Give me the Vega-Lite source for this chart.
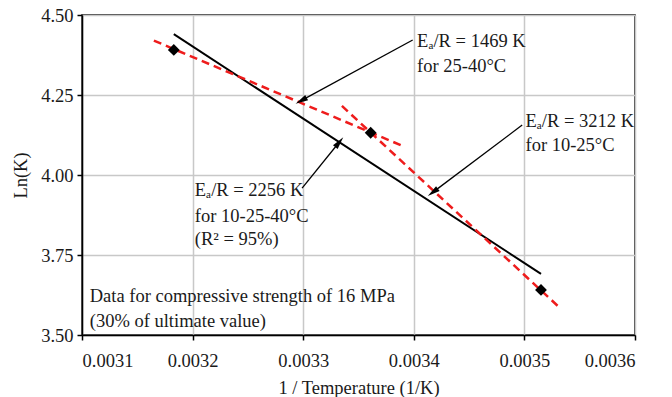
{
  "$schema": "https://vega.github.io/schema/vega-lite/v6.json",
  "width": 553,
  "height": 320,
  "autosize": "none",
  "padding": {"left": 82, "top": 15, "right": 37, "bottom": 62},
  "background": "white",
  "config": {
    "font": "Liberation Serif, Times New Roman, serif",
    "view": {"stroke": "black", "strokeWidth": 1.5},
    "axis": {
      "labelFont": "Liberation Serif, Times New Roman, serif",
      "titleFont": "Liberation Serif, Times New Roman, serif",
      "labelFontSize": 18.5,
      "titleFontSize": 18.5,
      "titleFontWeight": "normal",
      "labelColor": "#1a1a1a",
      "titleColor": "#1a1a1a",
      "domainColor": "black",
      "domainWidth": 1.5,
      "tickColor": "black",
      "tickWidth": 1.5,
      "tickSize": 5,
      "gridColor": "#c8c8c8",
      "gridWidth": 1.5
    }
  },
  "datasets": {
    "pts": [
      {"x": 0.003183, "y": 4.391},
      {"x": 0.003361, "y": 4.132},
      {"x": 0.003515, "y": 3.641}
    ],
    "fit": [
      {"x": 0.003183, "y": 4.44},
      {"x": 0.003515, "y": 3.691}
    ],
    "seg": [
      {"seg": "25-40", "x": 0.003165, "y": 4.42},
      {"seg": "25-40", "x": 0.003389, "y": 4.092},
      {"seg": "10-25", "x": 0.003335, "y": 4.216},
      {"seg": "10-25", "x": 0.003532, "y": 3.585}
    ],
    "arrows": [
      {"x1": 0.003399, "y1": 4.422, "x2": 0.003299, "y2": 4.234},
      {"x1": 0.003498, "y1": 4.156, "x2": 0.003418, "y2": 3.948},
      {"x1": 0.003299, "y1": 3.959, "x2": 0.003332, "y2": 4.1}
    ],
    "labels": [
      {"x": 0.003403, "y": 4.40, "text": "Eₐ/R = 1469 K"},
      {"x": 0.003403, "y": 4.322, "text": "for 25-40°C"},
      {"x": 0.003501, "y": 4.15, "text": "Eₐ/R = 3212 K"},
      {"x": 0.003501, "y": 4.075, "text": "for 10-25°C"},
      {"x": 0.003202, "y": 3.934, "text": "Eₐ/R = 2256 K"},
      {"x": 0.003202, "y": 3.853, "text": "for 10-25-40°C"},
      {"x": 0.003202, "y": 3.781, "text": "(R² = 95%)"},
      {"x": 0.003107, "y": 3.603, "text": "Data for compressive strength of 16 MPa"},
      {"x": 0.003107, "y": 3.525, "text": "(30% of ultimate value)"}
    ]
  },
  "encoding": {
    "x": {
      "field": "x", "type": "quantitative",
      "scale": {"domain": [0.0031, 0.0036], "nice": false, "zero": false},
      "axis": {"title": "1 / Temperature (1/K)", "values": [0.0031, 0.0032, 0.0033, 0.0034, 0.0035, 0.0036], "format": ".4f", "labelPadding": 11, "titlePadding": 9}
    },
    "y": {
      "field": "y", "type": "quantitative",
      "scale": {"domain": [3.5, 4.5], "nice": false, "zero": false},
      "axis": {"title": "Ln(K)", "values": [3.5, 3.75, 4.0, 4.25, 4.5], "format": ".2f", "labelPadding": 4, "titlePadding": 10}
    }
  },
  "layer": [
    {
      "data": {"name": "fit"},
      "mark": {"type": "line", "color": "black", "strokeWidth": 2}
    },
    {
      "data": {"name": "seg"},
      "mark": {"type": "line", "color": "#ee1c1c", "strokeWidth": 2.5, "strokeDash": [8, 5]},
      "encoding": {"detail": {"field": "seg"}}
    },
    {
      "data": {"name": "pts"},
      "mark": {"type": "point", "shape": "diamond", "filled": true, "color": "black", "size": 140, "opacity": 1}
    },
    {
      "data": {"name": "arrows"},
      "mark": {"type": "rule", "color": "black", "strokeWidth": 1.3},
      "encoding": {
        "x": {"field": "x1", "type": "quantitative"},
        "y": {"field": "y1", "type": "quantitative"},
        "x2": {"field": "x2"},
        "y2": {"field": "y2"}
      }
    },
    {
      "data": {"name": "arrows"},
      "transform": [
        {"calculate": "atan2((datum.x2 - datum.x1) * 1106000, (datum.y2 - datum.y1) * 320) * 180 / PI", "as": "ang"}
      ],
      "mark": {"type": "point", "shape": "M0,-1L0.4,0.7L-0.4,0.7Z", "filled": true, "color": "black", "size": 220, "opacity": 1},
      "encoding": {
        "x": {"field": "x2", "type": "quantitative"},
        "y": {"field": "y2", "type": "quantitative"},
        "angle": {"field": "ang", "type": "quantitative", "scale": null}
      }
    },
    {
      "data": {"name": "labels"},
      "mark": {"type": "text", "align": "left", "baseline": "alphabetic", "fontSize": 18.5, "color": "#1a1a1a"},
      "encoding": {"text": {"field": "text"}}
    }
  ]
}
